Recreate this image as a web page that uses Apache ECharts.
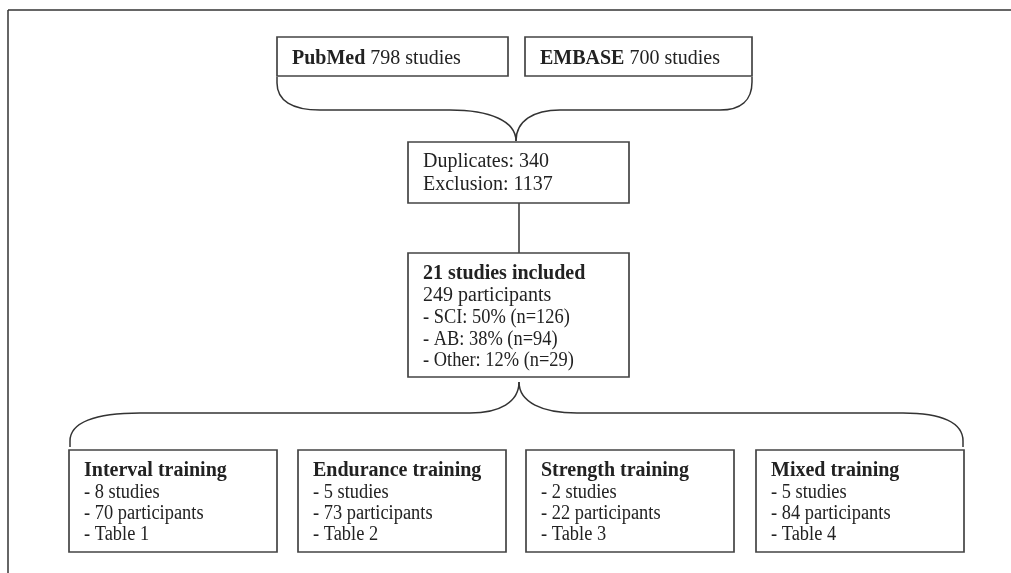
<!DOCTYPE html>
<html>
<head>
<meta charset="utf-8">
<script src="https://cdn.jsdelivr.net/npm/echarts@6/dist/echarts.min.js"></script>
<style>
  html, body { margin: 0; padding: 0; background: #fff; }
  #main { width: 1011px; height: 573px; }
</style>
</head>
<body>
<div id="main"></div>
<script>
// data
var sources = ['PubMed', 'EMBASE'];
var sourceStudies = [798, 700];
var duplicates = 340;
var exclusions = 1137;
var includedStudies = 21;
var includedParticipants = 249;
var populations = ['SCI', 'AB', 'Other'];
var populationPct = [50, 38, 12];
var populationN = [126, 94, 29];
var groups = ['Interval training', 'Endurance training', 'Strength training', 'Mixed training'];
var groupStudies = [8, 5, 2, 5];
var groupParticipants = [70, 73, 22, 84];
var groupTables = ['Table 1', 'Table 2', 'Table 3', 'Table 4'];

var dom = document.getElementById('main');
var myChart = echarts.init(dom);

var FONT = 'Liberation Serif';
var FS = 20;
var graphic = [];

function box(x, y, w, h) {
    graphic.push({
        type: 'rect',
        shape: { x: x, y: y, width: w, height: h },
        style: { fill: '#fff', stroke: '#444', lineWidth: 1.7 }
    });
}
// list lines ("- ...") are a bit narrower in the original
function txt(x, y, text, bold, narrow) {
    graphic.push({
        type: 'text', x: x, y: y,
        scaleX: narrow ? 0.92 : 1,
        style: {
            text: text, fill: '#222', fontFamily: FONT, fontSize: FS,
            fontWeight: bold ? 'bold' : 'normal', verticalAlign: 'middle'
        }
    });
}
function richTxt(x, y, text) {
    graphic.push({
        type: 'text', x: x, y: y,
        style: {
            text: text, fill: '#222', fontFamily: FONT, fontSize: FS, verticalAlign: 'middle',
            rich: { b: { fontWeight: 'bold', fontFamily: FONT, fontSize: FS, fill: '#222' } }
        }
    });
}
var LS = { stroke: '#333', lineWidth: 1.5, fill: 'none' };
function seg(x1, y1, x2, y2) {
    graphic.push({ type: 'line', shape: { x1: x1, y1: y1, x2: x2, y2: y2 }, style: LS });
}
function curve(x1, y1, c1x, c1y, c2x, c2y, x2, y2) {
    graphic.push({
        type: 'bezierCurve',
        shape: { x1: x1, y1: y1, cpx1: c1x, cpy1: c1y, cpx2: c2x, cpy2: c2y, x2: x2, y2: y2 },
        style: LS
    });
}
// one half of a curly brace: end (ex, ey0->ey1), horizontal at yh, tip at (tx, ty)
function halfBrace(ex, ey0, ey1, r1, yh, r2, tx, ty) {
    var s = tx > ex ? 1 : -1;
    seg(ex, ey0, ex, ey1);
    curve(ex, ey1, ex, ey1 + (yh - ey1) * 0.65, ex + s * r1 * 0.35, yh, ex + s * r1, yh);
    seg(ex + s * r1, yh, tx - s * r2, yh);
    curve(tx - s * r2, yh, tx - s * r2 * 0.4, yh, tx, yh + (ty - yh) * 0.35, tx, ty);
}

// frame
seg(8, 10, 1011, 10);
seg(8, 10, 8, 573);

// braces
halfBrace(277, 77, 83, 43, 110, 66, 516, 141);
halfBrace(752, 77, 82, 32, 110, 44, 516, 141);
halfBrace(70, 447, 441, 70, 413, 49, 519, 382);
halfBrace(963, 447, 441, 60, 413, 58, 519, 382);
seg(519, 203, 519, 253);

// source boxes
var srcX = [277, 525], srcW = [231, 227];
sources.forEach(function (s, i) {
    box(srcX[i], 37, srcW[i], 39);
    richTxt(srcX[i] + 15, 59, '{b|' + s + '} ' + sourceStudies[i] + ' studies');
});

// screening
box(408, 142, 221, 61);
txt(423, 162, 'Duplicates: ' + duplicates);
txt(423, 184.5, 'Exclusion: ' + exclusions);

// included
box(408, 253, 221, 124);
txt(423, 274, includedStudies + ' studies included', true);
txt(423, 296, includedParticipants + ' participants');
populations.forEach(function (p, i) {
    txt(423, 318 + i * 21.5, '- ' + p + ': ' + populationPct[i] + '% (n=' + populationN[i] + ')', false, true);
});

// groups
var gX = [69, 298, 526, 756];
groups.forEach(function (g, i) {
    box(gX[i], 450, 208, 102);
    txt(gX[i] + 15, 471, g, true);
    txt(gX[i] + 15, 492.5, '- ' + groupStudies[i] + ' studies', false, true);
    txt(gX[i] + 15, 513.5, '- ' + groupParticipants[i] + ' participants', false, true);
    txt(gX[i] + 15, 534.5, '- ' + groupTables[i], false, true);
});

option = {
    backgroundColor: '#fff',
    animation: false,
    graphic: graphic
};
myChart.setOption(option);
window.onresize = myChart.resize;
</script>
</body>
</html>
